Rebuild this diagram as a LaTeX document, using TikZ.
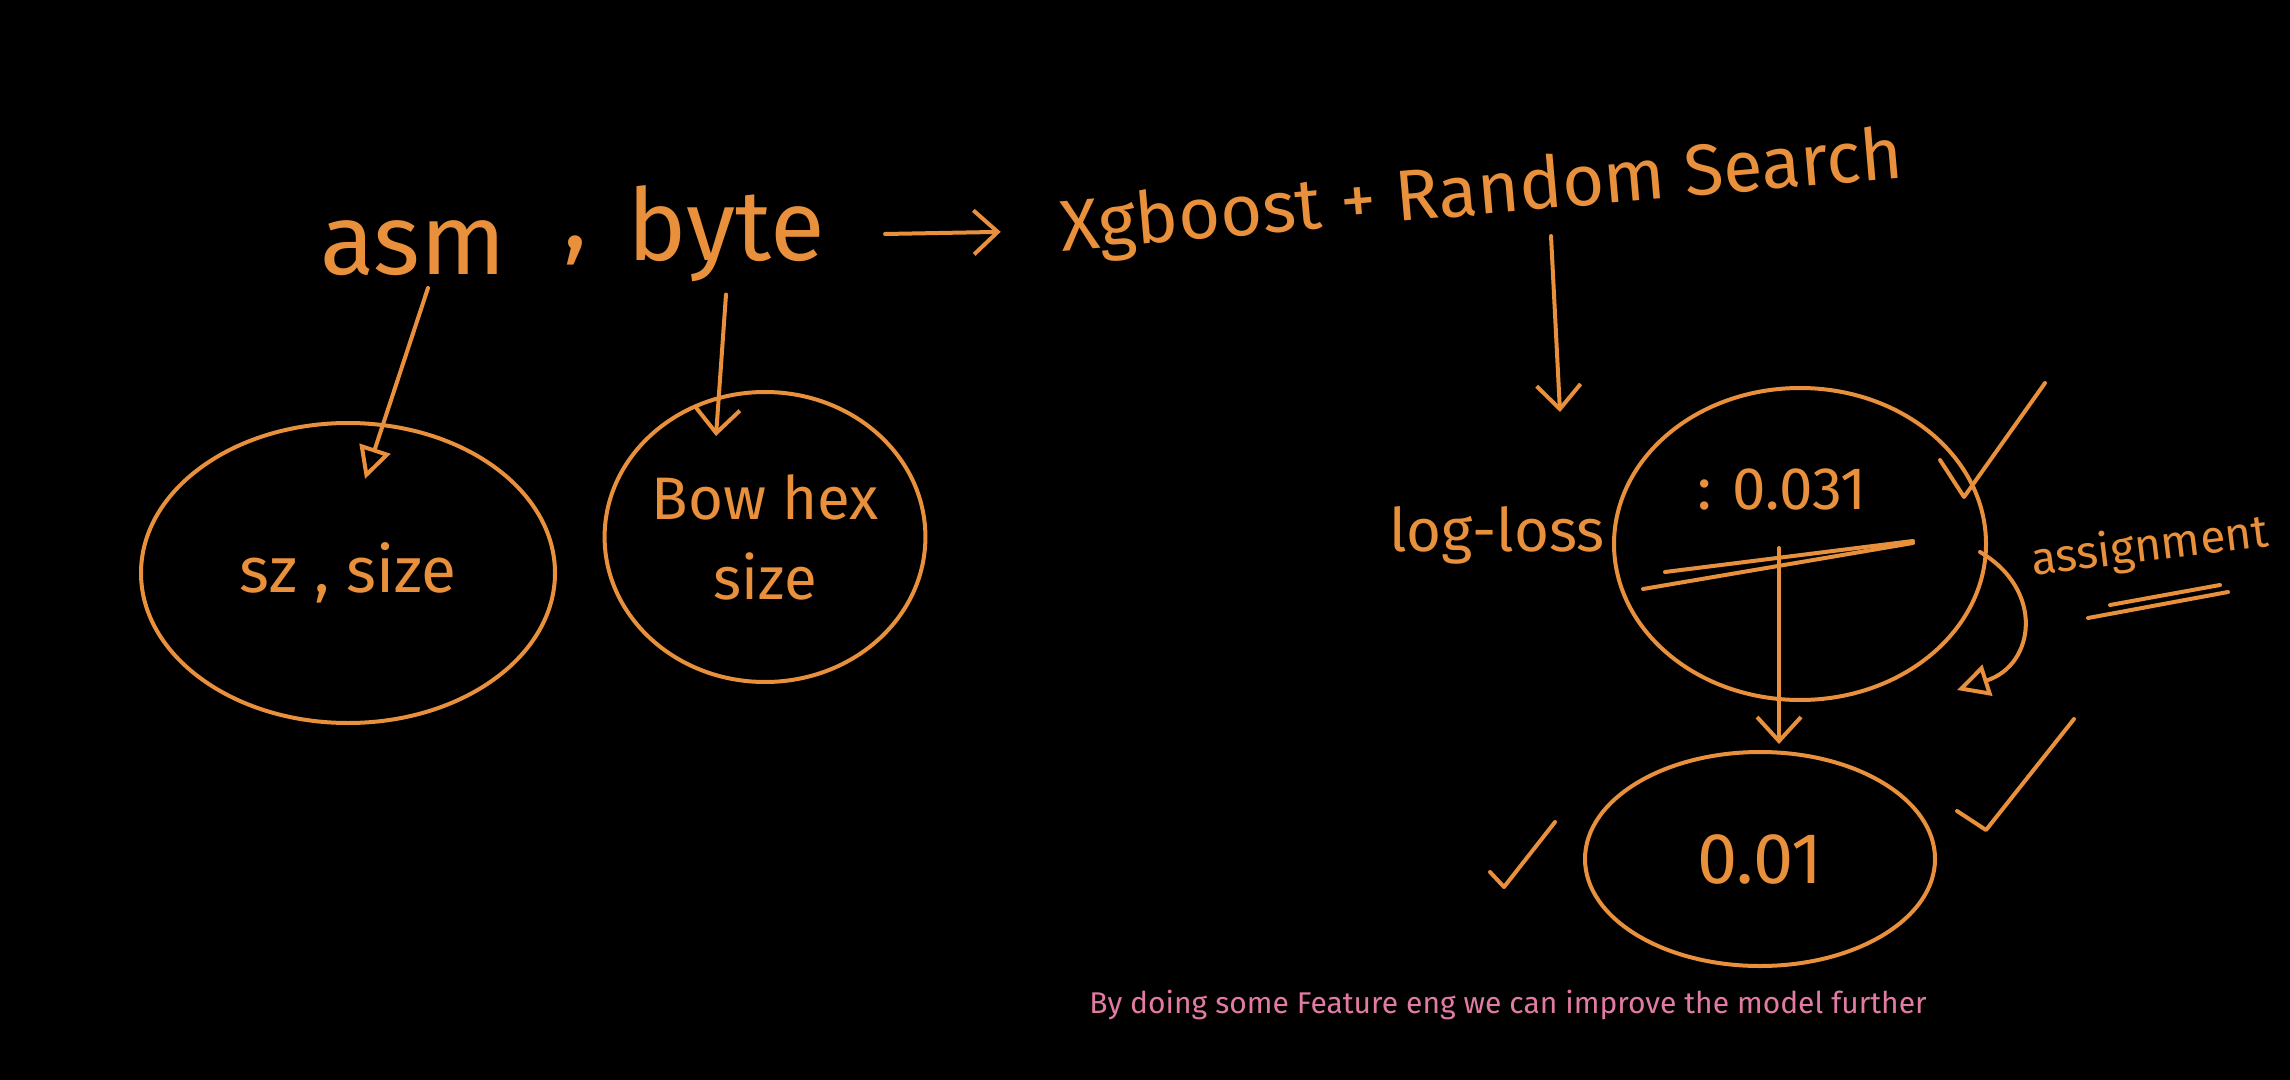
\documentclass[tikz,border=0pt]{standalone}
\usepackage{fontspec}
\setmainfont{Fira Sans}
\usetikzlibrary{arrows.meta,shapes.geometric,calc}
\definecolor{pen}{HTML}{E8903C}
\definecolor{pinktxt}{HTML}{E27BA3}
\begin{document}
\begin{tikzpicture}[x=0.5pt,y=-0.5pt,
  ink/.style={draw=pen, line width=2pt, line cap=round, line join=round},
  hand/.style={text=pen, inner sep=0pt},
  blob/.style={ellipse, draw=pen, line width=2pt, inner sep=0pt, text=pen},
  barb/.style={ink, -{Straight Barb[length=12pt,width=22pt,line width=2pt]}},
  tri/.style={ink, -{Triangle[open,length=16pt,width=16pt,line width=2pt]}},
]
\fill[black] (0,0) rectangle (2290,1080);
\useasboundingbox (0,0) rectangle (2290,1080);

% top row texts
\node[hand, font=\fontsize{50}{56}\selectfont] (asm) at (413,248) {asm};
\node[hand, font=\fontsize{50}{56}\selectfont] (comma) at (575,250) {,};
\node[hand, font=\fontsize{50}{56}\selectfont] (byte) at (726,234) {byte};
\node[hand, font=\fontsize{36}{40}\selectfont, rotate=5] (xgb) at (1482,195) {Xgboost + Random Search};

% ellipses
\node[blob, minimum width=207pt, minimum height=150pt, font=\fontsize{32}{36}\selectfont] (e1) at (348,573) {sz , size};
\node[blob, minimum width=155pt, minimum height=145pt, align=center, font=\fontsize{30}{40}\selectfont] (e2) at (765,537) {Bow hex\\ size};
\node[blob, minimum width=186pt, minimum height=156pt] (e3) at (1800,544) {};
\node[blob, minimum width=175pt, minimum height=107pt, font=\fontsize{36}{40}\selectfont] (e4) at (1760,859) {0.01};

% texts on right
\node[hand, font=\fontsize{30}{36}\selectfont] (ll) at (1497,535) {log-loss};
\node[hand, font=\fontsize{30}{36}\selectfont] (val) at (1782,489) {: 0.031};
\node[hand, font=\fontsize{23}{28}\selectfont, rotate=7] (asg) at (2150,548) {assignment};

% connectors
\draw[tri] (asm.south) ++(15,12) -- ($(e1.north)+(17,58)$);
\draw[barb] ([yshift=-6pt]byte.south) -- ($(e2.north)+(-49,46)$);
\draw[barb] ([xshift=30pt]byte.east) -- ([xshift=-30pt]xgb.west);

\coordinate (d1) at (1551,236);
\coordinate (d2) at (1560,412);
\draw[barb] (d1) -- (d2);

% underline strokes under 0.031
\coordinate (u1a) at (1643,589);
\coordinate (u1b) at (1913,543);
\coordinate (u2a) at (1665,572);
\coordinate (u2b) at (1913,541);
\draw[ink] (u1a) -- (u1b);
\draw[ink] (u2a) -- (u2b);

% down arrow between circles
\coordinate (v1) at (1779,548);
\draw[barb] (v1) -- ($(e4.north)+(19,-6)$);

% assignment curved arrow
\draw[tri] (e3.east) ++(-8,8) .. controls (2045,590) and (2035,665) .. (1957,690);

% underlines under assignment
\coordinate (a1) at (2088,618);
\coordinate (a2) at (2228,592);
\coordinate (a3) at (2110,605);
\coordinate (a4) at (2220,585);
\draw[ink] (a1) -- (a2);
\draw[ink] (a3) -- (a4);

% check marks
\coordinate (c1a) at (1940,460);
\coordinate (c1b) at (1964,497);
\coordinate (c1c) at (2045,383);
\draw[ink] (c1a) -- (c1b) -- (c1c);
\coordinate (c2a) at (1957,811);
\coordinate (c2b) at (1986,830);
\coordinate (c2c) at (2074,719);
\draw[ink] (c2a) -- (c2b) -- (c2c);
\coordinate (c3a) at (1490,872);
\coordinate (c3b) at (1504,887);
\coordinate (c3c) at (1555,822);
\draw[ink] (c3a) -- (c3b) -- (c3c);

% caption
\node[text=pinktxt, font=\fontsize{15}{18}\selectfont, inner sep=0pt] (cap) at (1508,1005) {By doing some Feature eng we can improve the model further};
\end{tikzpicture}
\end{document}
